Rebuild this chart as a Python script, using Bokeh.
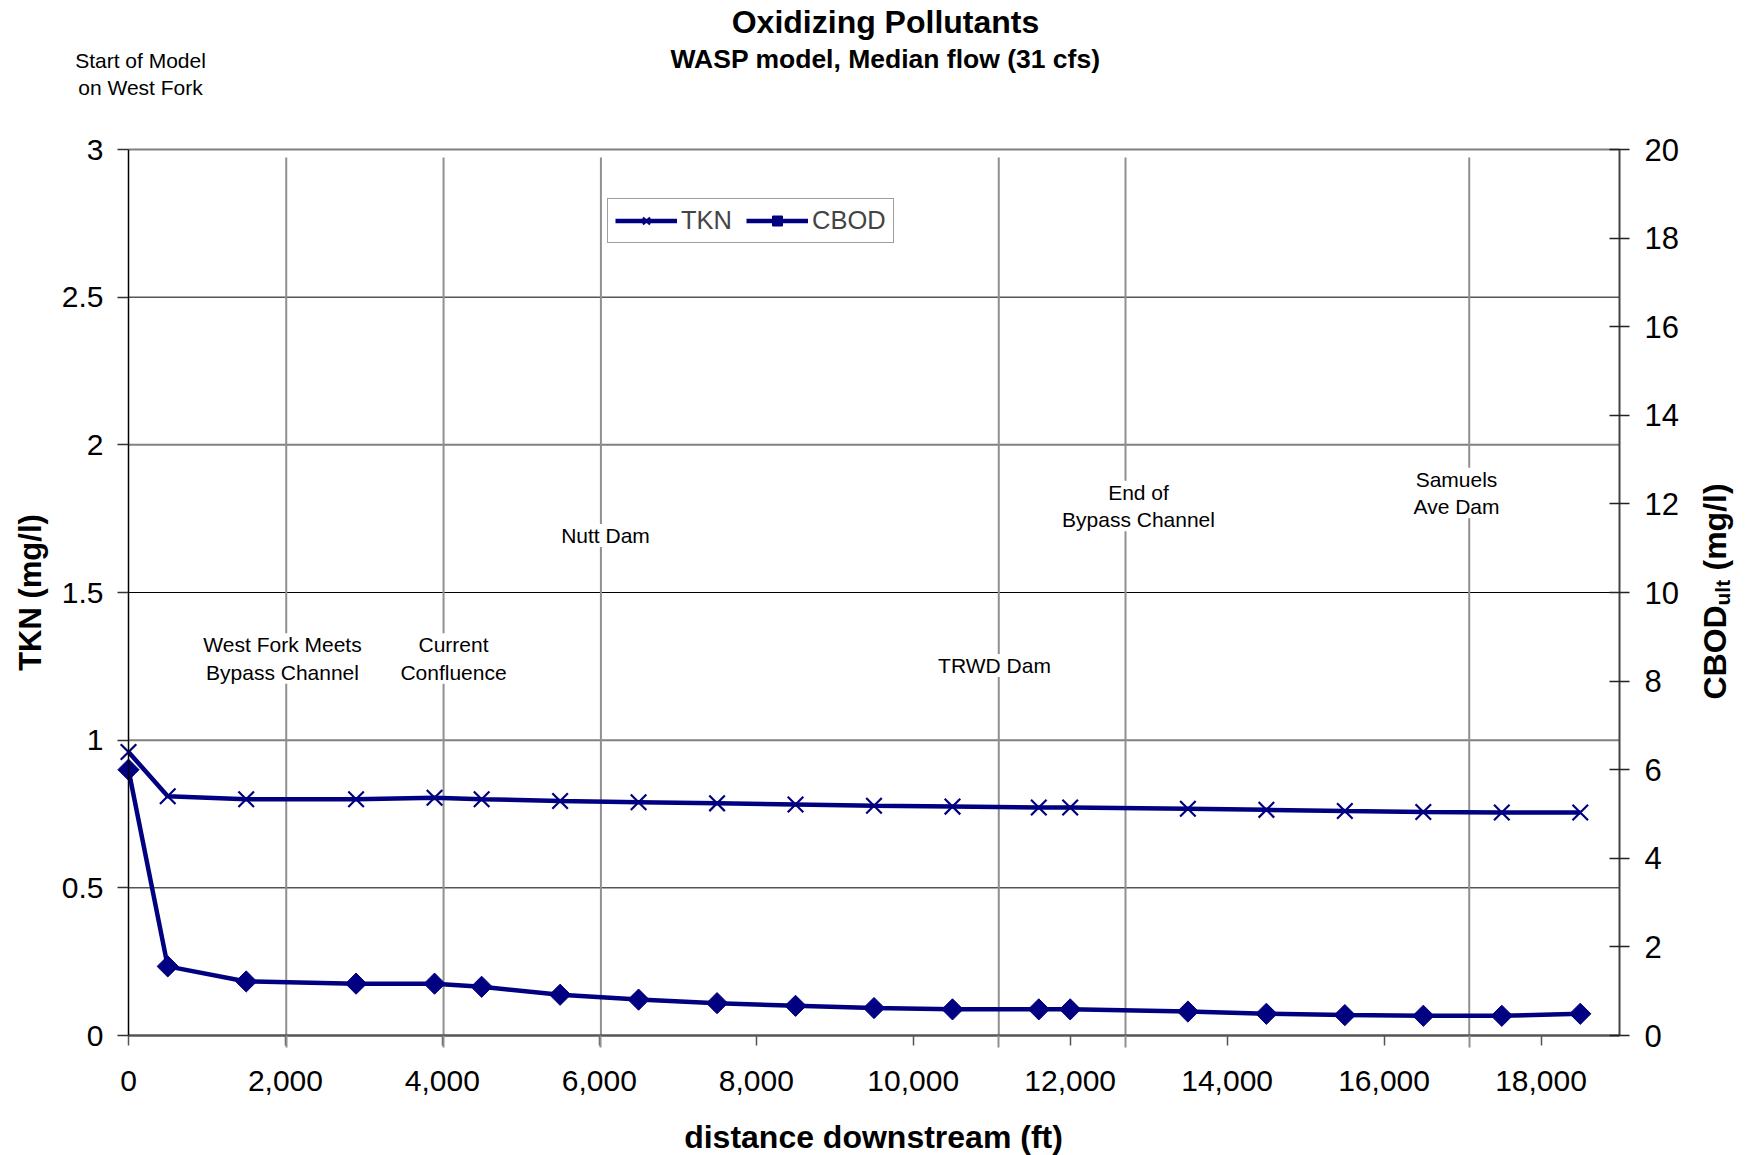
import math
from bokeh.plotting import figure
from bokeh.models import (Range1d, LinearAxis, FixedTicker, NumeralTickFormatter,
                          CustomJSTickFormatter, Label, Legend, LegendItem)
from bokeh.embed import file_html
from bokeh.resources import INLINE

# ---------------- data ----------------
distance_ft = [0, 500, 1500, 2900, 3900, 4500, 5500, 6500, 7500, 8500, 9500,
               10500, 11600, 12000, 13500, 14500, 15500, 16500, 17500, 18500]
tkn_mg_l = [0.96, 0.81, 0.80, 0.80, 0.805, 0.80, 0.794, 0.79, 0.786, 0.782, 0.778,
            0.775, 0.772, 0.772, 0.768, 0.764, 0.760, 0.757, 0.755, 0.755]
cbod_mg_l = [6.0, 1.56, 1.22, 1.17, 1.17, 1.10, 0.92, 0.81, 0.73, 0.67, 0.62,
             0.59, 0.59, 0.59, 0.54, 0.49, 0.46, 0.445, 0.445, 0.49]

x_ticks = [0, 2000, 4000, 6000, 8000, 10000, 12000, 14000, 16000, 18000]
tkn_ticks = [0, 0.5, 1, 1.5, 2, 2.5, 3]
cbod_ticks = [0, 2, 4, 6, 8, 10, 12, 14, 16, 18, 20]

landmark_x = [2010, 4015, 6020, 11090, 12705, 17085]
landmark_names = ["West Fork Meets\nBypass Channel", "Current\nConfluence", "Nutt Dam",
                  "TRWD Dam", "End of\nBypass Channel", "Samuels\nAve Dam"]

# ---------------- geometry ----------------
W, H = 1747, 1155
PX_LEFT, PX_RIGHT, PX_TOP, PX_BOTTOM = 128, 1619, 149, 1035
X_MAX, TKN_MAX, CBOD_MAX = 19000, 3, 20
sx = (PX_RIGHT - PX_LEFT) / X_MAX          # px per ft
sy = (PX_BOTTOM - PX_TOP) / TKN_MAX        # px per TKN unit


def fx(px):   # screen px -> ft
    return (px - PX_LEFT) / sx


def fy(py):   # screen px -> TKN units
    return (PX_BOTTOM - py) / sy


NAVY = "#000080"
FONT = "Liberation Sans"

p = figure(width=W, height=H,
           x_range=Range1d(fx(0), fx(W)), y_range=Range1d(fy(H), fy(0)),
           output_backend="svg", toolbar_location=None, min_border=0,
           x_axis_type=None, y_axis_type=None, title=None)
p.outline_line_color = None
p.background_fill_color = "white"
p.border_fill_color = "white"
p.xgrid.visible = False
p.ygrid.visible = False
p.extra_y_ranges = {"cbod": Range1d(fy(H) * CBOD_MAX / TKN_MAX, fy(0) * CBOD_MAX / TKN_MAX)}

# x axis
xa = LinearAxis(fixed_location=0, bounds=(0, X_MAX),
                ticker=FixedTicker(ticks=x_ticks, minor_ticks=landmark_x),
                formatter=NumeralTickFormatter(format="0,0"))
xa.axis_line_color = "#555555"
xa.axis_line_width = 2.5
xa.major_tick_line_color = "#555555"
xa.major_tick_line_width = 1.5
xa.major_tick_in = 0
xa.major_tick_out = 10
xa.minor_tick_line_color = "#909090"
xa.minor_tick_line_width = 2
xa.minor_tick_in = 0
xa.minor_tick_out = 12
xa.major_label_text_font = FONT
xa.major_label_text_font_size = "30px"
xa.major_label_text_color = "black"
xa.major_label_standoff = 23
p.add_layout(xa, "below")

# left axis
ya = LinearAxis(fixed_location=0, bounds=(0, TKN_MAX), ticker=FixedTicker(ticks=tkn_ticks),
                formatter=CustomJSTickFormatter(code="return tick.toString();"))
ya.axis_line_color = "black"
ya.axis_line_width = 1.5
ya.major_tick_line_color = "#333333"
ya.major_tick_line_width = 1.5
ya.major_tick_in = 0
ya.major_tick_out = 11
ya.minor_tick_line_color = None
ya.major_label_text_font = FONT
ya.major_label_text_font_size = "30px"
ya.major_label_text_color = "black"
ya.major_label_standoff = 14
p.add_layout(ya, "left")

# right axis
ra = LinearAxis(y_range_name="cbod", fixed_location=X_MAX, bounds=(0, CBOD_MAX),
                ticker=FixedTicker(ticks=cbod_ticks))
ra.axis_line_color = "#444444"
ra.axis_line_width = 2
ra.major_tick_line_color = "#222222"
ra.major_tick_line_width = 1.5
ra.major_tick_in = 10
ra.major_tick_out = 10
ra.minor_tick_line_color = None
ra.major_label_text_font = FONT
ra.major_label_text_font_size = "31px"
ra.major_label_text_color = "black"
ra.major_label_standoff = 15
p.add_layout(ra, "right")

# horizontal grid lines (within the plot area only)
major_grid = tkn_ticks[2::2]
minor_grid = tkn_ticks[1::2]
p.segment(x0=[0] * len(major_grid), y0=major_grid, x1=[X_MAX] * len(major_grid), y1=major_grid,
          line_color="#808080", line_width=2)
p.segment(x0=[0] * len(minor_grid), y0=minor_grid, x1=[X_MAX] * len(minor_grid), y1=minor_grid,
          line_color="black", line_width=1)

# landmark lines
p.segment(x0=landmark_x, y0=[0] * len(landmark_x), x1=landmark_x,
          y1=[fy(PX_TOP + 8)] * len(landmark_x), line_color="#909090", line_width=2)

# data
l1 = p.line(distance_ft, tkn_mg_l, line_color=NAVY, line_width=4.5)
s1 = p.scatter(distance_ft, tkn_mg_l, marker="x", size=22, line_color=NAVY, line_width=2.2)
l2 = p.line(distance_ft, cbod_mg_l, line_color=NAVY, line_width=4.5, y_range_name="cbod")
s2 = p.scatter(distance_ft, cbod_mg_l, marker="square", angle=math.pi / 4, size=15,
               line_color=NAVY, fill_color=NAVY, y_range_name="cbod")

legend = Legend(items=[LegendItem(label="TKN", renderers=[l1, s1]),
                       LegendItem(label="CBOD", renderers=[l2, s2])],
                location=(607, H - 243), orientation="horizontal",
                label_text_font=FONT, label_text_font_size="25.5px",
                glyph_width=62, glyph_height=25, padding=7, spacing=14,
                label_standoff=4, border_line_color="#404040", border_line_width=1,
                margin=0, background_fill_color="white", background_fill_alpha=1)
p.add_layout(legend)

# landmark labels (screen-measured centres converted to data units)
label_px = [(282, 658), (453, 658), (605, 535), (994, 665), (1138, 505.5), (1456, 492.5)]
for (lx, ly), name in zip(label_px, landmark_names):
    p.add_layout(Label(x=fx(lx), y=fy(ly), text=name, text_align="center", text_baseline="middle",
                       text_font=FONT, text_font_size="21px", text_color="black",
                       text_line_height=1.2, background_fill_color="white",
                       background_fill_alpha=1))

p.add_layout(Label(x=fx(140), y=fy(73.5), text="Start of Model\non West Fork", text_align="center",
                   text_baseline="middle", text_font=FONT, text_font_size="21px",
                   text_color="black", text_line_height=1.16))

# titles
p.add_layout(Label(x=fx(885), y=fy(21), text="Oxidizing Pollutants", text_align="center",
                   text_baseline="middle", text_font=FONT, text_font_size="32px",
                   text_font_style="bold", text_color="black"))
p.add_layout(Label(x=fx(885), y=fy(58), text="WASP model, Median flow (31 cfs)", text_align="center",
                   text_baseline="middle", text_font=FONT, text_font_size="26.5px",
                   text_font_style="bold", text_color="black"))

# axis titles
p.add_layout(Label(x=fx(873), y=fy(1136), text="distance downstream (ft)", text_align="center",
                   text_baseline="middle", text_font=FONT, text_font_size="32px",
                   text_font_style="bold", text_color="black"))
p.add_layout(Label(x=fx(30), y=fy(592), text="TKN (mg/l)", angle=math.pi / 2, text_align="center",
                   text_baseline="middle", text_font=FONT, text_font_size="31px",
                   text_font_style="bold", text_color="black"))
# right axis title with subscript
p.add_layout(Label(x=fx(1714), y=fy(699), text="CBOD", angle=math.pi / 2, text_align="left",
                   text_baseline="middle", text_font=FONT, text_font_size="32px",
                   text_font_style="bold", text_color="black"))
p.add_layout(Label(x=fx(1722), y=fy(605), text="ult", angle=math.pi / 2, text_align="left",
                   text_baseline="middle", text_font=FONT, text_font_size="21px",
                   text_font_style="bold", text_color="black"))
p.add_layout(Label(x=fx(1714), y=fy(570), text="(mg/l)", angle=math.pi / 2, text_align="left",
                   text_baseline="middle", text_font=FONT, text_font_size="32px",
                   text_font_style="bold", text_color="black"))

open("out.html", "w").write(file_html(p, INLINE))
